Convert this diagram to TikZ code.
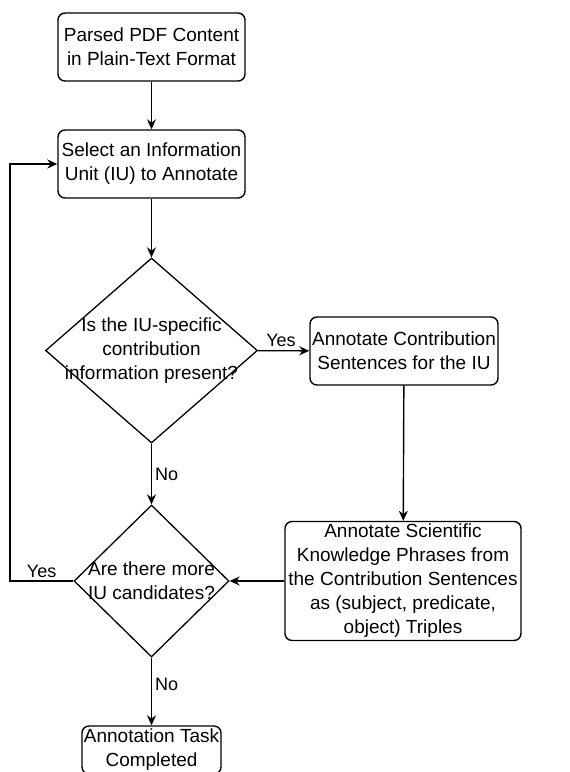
\documentclass[tikz,border=0pt]{standalone}
\usepackage{fontspec}
\setmainfont{Liberation Sans}
\usepackage{tikz}
\usetikzlibrary{shapes.geometric,arrows.meta}
\tikzset{
  % style for the rounded step boxes
  process box/.style={
    draw, rounded corners=7pt, line width=1.4pt,
    align=center, inner sep=1pt,
    font=\fontsize{19}{24}\selectfont
  },
  % style for the decision diamonds (text is put in as a centred label)
  decision/.style={
    draw, diamond, line width=1.3pt, inner sep=0pt
  },
  decision text/.style={
    align=center, inner sep=0pt,
    font=\fontsize{19}{24}\selectfont
  },
  % style for the connectors
  flow/.style={
    line width=1.4pt, -{Stealth[length=10pt,width=9pt]}
  },
  % style for the yes/no labels
  answer/.style={
    font=\fontsize{18}{22}\selectfont, inner sep=3pt
  },
}
\begin{document}
\begin{tikzpicture}[x=1pt, y=-1pt]

\clip (0,0) rectangle (570,772);

% Steps
\node[process box, minimum width=187pt, minimum height=68pt] (parsed) at (151.5,47) {Parsed PDF Content\\in Plain-Text Format};
\node[process box, minimum width=187pt, minimum height=68pt] (select) at (151.5,164) {Select an Information\\Unit (IU) to Annotate};
\node[process box, minimum width=188pt, minimum height=68pt] (sentences) at (404,351) {Annotate Contribution\\Sentences for the IU};
\node[process box, minimum width=236pt, minimum height=119pt] (triples) at (403,581) {Annotate Scientific\\Knowledge Phrases from\\the Contribution Sentences\\as (subject, predicate,\\object) Triples};
\node[process box, minimum width=139pt, minimum height=48pt] (done) at (151.5,750) {Annotation Task\\Completed};

% Decisions
\node[decision, minimum width=212pt, minimum height=185pt,
  label={[decision text]center:{Is the IU-specific\\contribution\\information present?}}] (present) at (151.5,350.5) {};
\node[decision, minimum width=155pt, minimum height=152pt,
  label={[decision text]center:{Are there more\\IU candidates?}}] (more) at (151.5,581) {};

\coordinate (loop) at (10,581);

% Connectors
\draw[flow] (parsed) -- (select);
\draw[flow] (select) -- (present);
\draw[flow] (present) -- node[answer, above, pos=0.45] {Yes} (sentences);
\draw[flow] (present) -- node[answer, right] {No} (more);
\draw[flow] (sentences) -- (triples);
\draw[flow] (triples) -- (more);
\draw[flow] (more) -- node[answer, right, pos=0.4] {No} (done);
\draw[flow] (more.west) -- node[answer, above] {Yes} (loop) |- (select.west);

\end{tikzpicture}
\end{document}
